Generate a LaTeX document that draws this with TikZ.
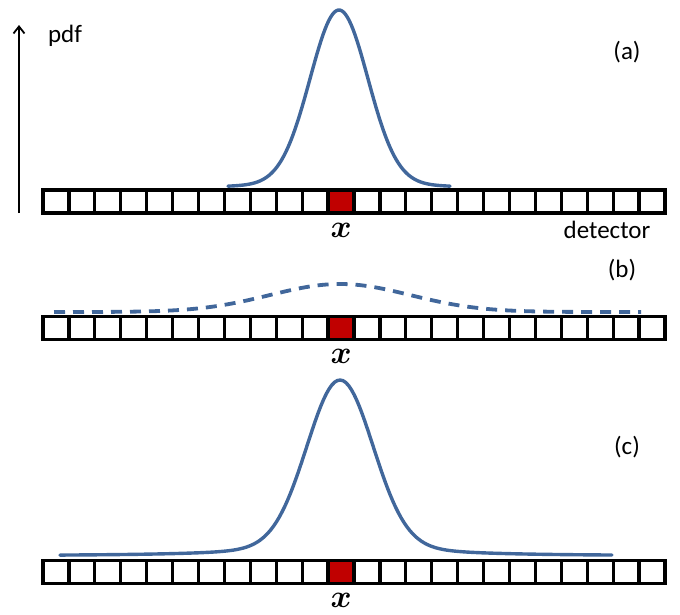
\RequirePackage{fix-cm}
\documentclass[tikz,border=0pt]{standalone}
\usepackage{amsmath,amssymb}
\usepackage{bm}
\usepackage{fontspec}
\setmainfont{Carlito}
\usepackage{tikz}
\usetikzlibrary{arrows.meta,positioning,calc}
\definecolor{curvecol}{HTML}{41679B}
\definecolor{hitcol}{HTML}{C00000}

\begin{document}
\begin{tikzpicture}[x=1pt, y=-1pt,
  cell/.style={draw, line width=3.2pt, minimum width=25.917pt, minimum height=23pt,
    inner sep=0pt, outer sep=0pt, fill=white},
  hit/.style={cell, fill=hitcol},
  pdfline/.style={color=curvecol, line width=3.4pt, line cap=round},
  lbl/.style={font=\fontsize{25}{30}\selectfont},
  xlbl/.style={font=\fontsize{32}{36}\selectfont, inner sep=0pt, anchor=north}
]
  \useasboundingbox (0,0) rectangle (680,614);

  % axis
  \coordinate (axisbot) at (19,213);
  \coordinate (axistop) at (19,25);
  \draw[-{Straight Barb[length=7pt,width=11pt]}, line width=1.8pt] (axisbot) -- (axistop);
  \node[lbl] (pdf) at (65,36) {pdf};

  % detectors (a), (b), (c)
  \foreach \row/\yy in {a/201.5, b/328, c/572} {
    \foreach \i in {1,...,24} {
      \ifnum\i=12
        \node[hit] (\row\i) at ({43+(\i-0.5)*25.917},\yy) {};
      \else
        \node[cell] (\row\i) at ({43+(\i-0.5)*25.917},\yy) {};
      \fi
    }
    \node[xlbl] (x\row) at ([yshift=-10pt]\row12.south) {$\bm{x}$};
  }
  \node[lbl] (det) at (607,230) {detector};

  % (a)
  \draw[pdfline] plot[domain=228:450, samples=120]
    (\x, {188-178*(0.93*exp(-((\x-339)/29)^2/2)+0.07/(1+((\x-339)/45)^2))});
  \node[lbl] (la) at (627,52) {(a)};

  % (b)
  \draw[pdfline, line width=3.8pt, dash pattern=on 11pt off 8pt, line cap=butt] plot[domain=54:641, samples=120]
    (\x, {312-28*exp(-((\x-340)/70)^2/2)});
  \node[lbl] (lb) at (622,270) {(b)};

  % (c)
  \draw[pdfline] plot[domain=60:612, samples=200]
    (\x, {556-176*(0.88*exp(-((\x-340)/33)^2/2)+0.12/(1+((\x-340)/60)^2))});
  \node[lbl] (lc) at (627,447) {(c)};
\end{tikzpicture}
\end{document}
